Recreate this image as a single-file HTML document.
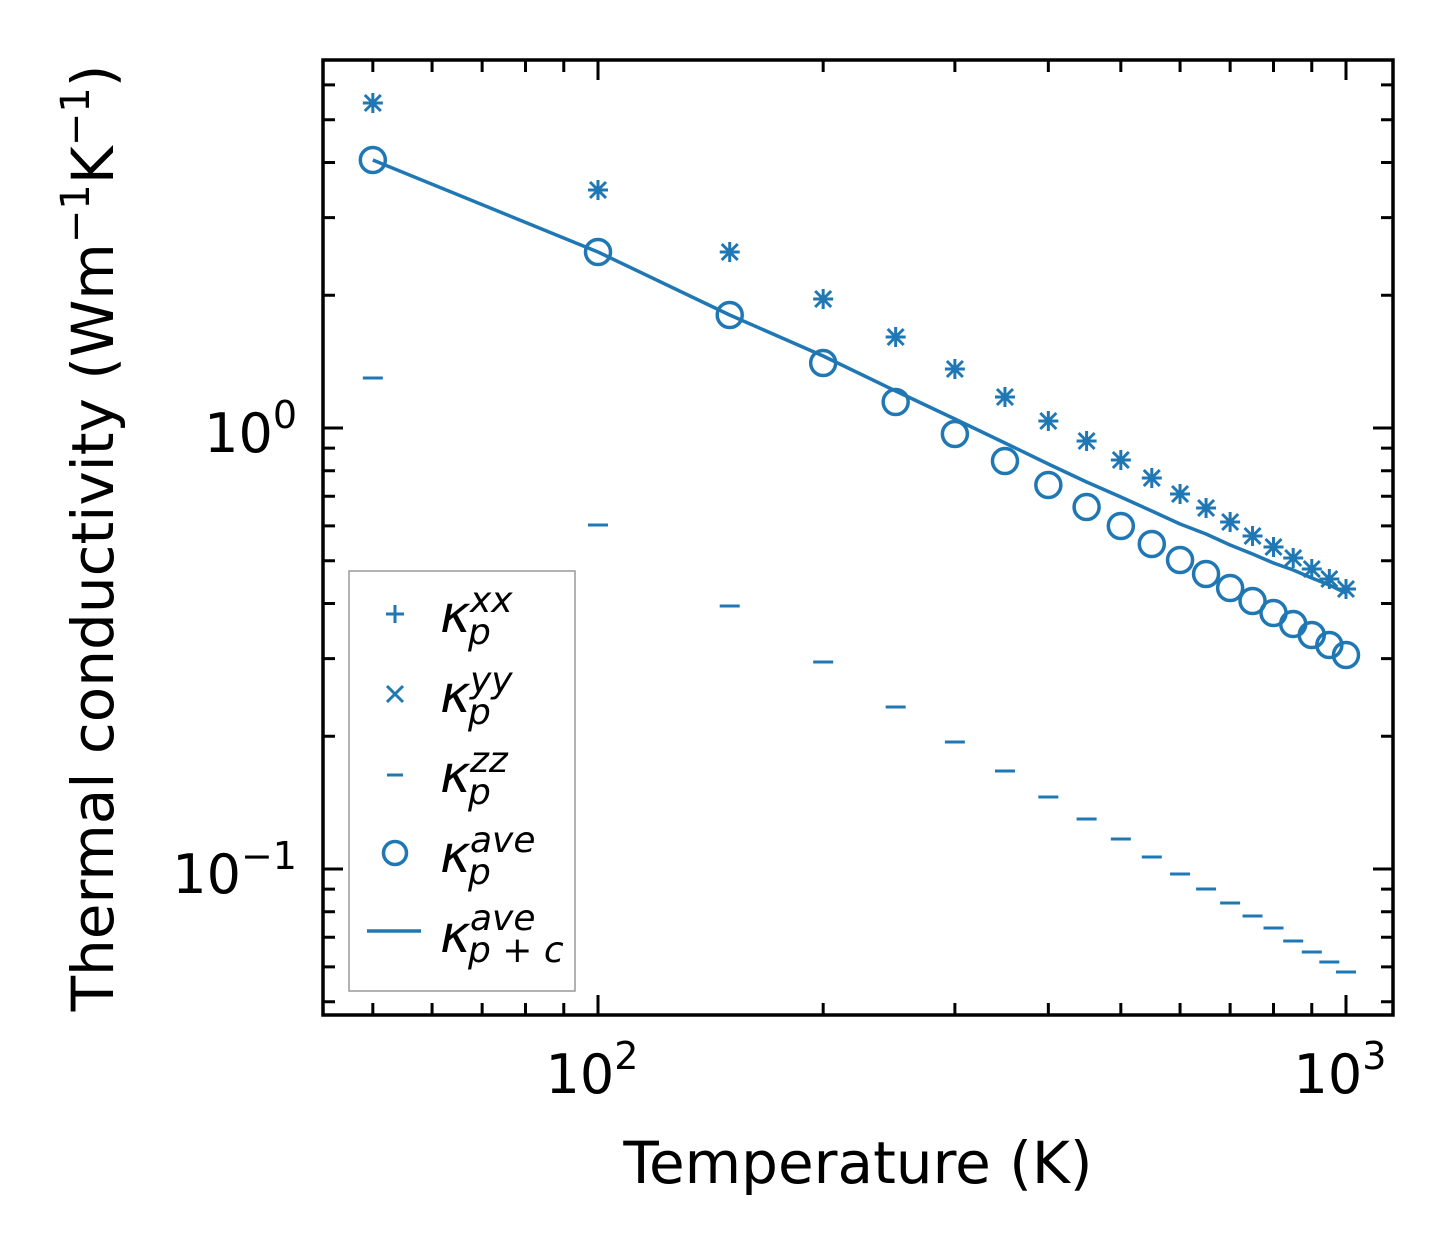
<!DOCTYPE html>
<html><head><meta charset="utf-8"><style>
html,body{margin:0;padding:0;background:#fff;}
svg{display:block;font-family:"DejaVu Sans","Liberation Sans",sans-serif;}
</style></head><body>
<svg id="s" width="1454" height="1254" viewBox="0 0 1454 1254" xmlns="http://www.w3.org/2000/svg">
<g id="ticks" stroke="#000" stroke-width="3"></g>
<g id="data" fill="none" stroke="#1f77b4" stroke-width="3.5"></g>
<rect x="323" y="60" width="1070" height="955" fill="none" stroke="#000" stroke-width="3.5"/>
<g font-size="54" fill="#000">
<text x="592" y="1093" text-anchor="middle">10<tspan dy="-24" font-size="38">2</tspan></text>
<text x="1340" y="1093" text-anchor="middle">10<tspan dy="-24" font-size="38">3</tspan></text>
<text x="297" y="452" text-anchor="end">10<tspan dy="-24" font-size="38">0</tspan></text>
<text x="297" y="893" text-anchor="end">10<tspan dy="-24" font-size="38">−1</tspan></text>
</g>
<text x="858" y="1183" text-anchor="middle" font-size="58">Temperature (K)</text>
<text transform="translate(113,538) rotate(-90)" text-anchor="middle" font-size="58">Thermal conductivity (Wm<tspan dy="-24" font-size="40">−1</tspan><tspan dy="24">K</tspan><tspan dy="-24" font-size="40">−1</tspan><tspan dy="24">)</tspan></text>
<rect x="349" y="571" width="226" height="420" fill="#fff" stroke="#999" stroke-width="1.5"/>
<g stroke="#1f77b4" stroke-width="3" fill="none">
<path d="M386 614h18M395 605v18"/>
<path d="M387 686l16 16M403 686l-16 16"/>
<path d="M387 775h16"/>
<circle cx="395" cy="853" r="11.5" stroke-width="3.5"/>
<path d="M367 931h54" stroke-width="3.5"/>
</g>
<g font-size="52" font-style="italic" fill="#000">
<text x="440" y="632">κ</text><text x="468" y="644" font-size="36">p</text><text x="470" y="612" font-size="36">xx</text>
<text x="440" y="712">κ</text><text x="468" y="724" font-size="36">p</text><text x="470" y="692" font-size="36">yy</text>
<text x="440" y="792">κ</text><text x="468" y="804" font-size="36">p</text><text x="470" y="772" font-size="36">zz</text>
<text x="440" y="872">κ</text><text x="468" y="884" font-size="36">p</text><text x="470" y="852" font-size="36">ave</text>
<text x="440" y="952">κ</text><text x="468" y="962" font-size="36">p + c</text><text x="470" y="930" font-size="36">ave</text>
</g>
</svg>
<script>
var NS="http://www.w3.org/2000/svg";
function X(T){return 598+748*Math.log10(T/100);}
function Y(v){return 428-441*Math.log10(v);}
var tk=document.getElementById("ticks"),d="";
for(var e=1;e<=3;e++)for(var k=1;k<10;k++){var T=k*Math.pow(10,e),x=X(T);if(x<325||x>1391)continue;var L=k==1?20:12;
d+="M"+x+" 1015v-"+L+"M"+x+" 60v"+L;}
for(var e=-2;e<=0;e++)for(var k=1;k<10;k++){var v=k*Math.pow(10,e),y=Y(v);if(y<62||y>1013)continue;var L=k==1?20:12;
d+="M323 "+y+"h"+L+"M1393 "+y+"h-"+L;}
var p=document.createElementNS(NS,"path");p.setAttribute("d",d);tk.appendChild(p);
var dg=document.getElementById("data");
var Ts=[];for(var i=1;i<=20;i++)Ts.push(i*50);
var circ=[160,252,315,363,402,434,461,485,507,526,544,560,574,588,601,613,624,635,645,655];
var star=[103,190,252,299,337,369,397,421,441,460,478,494,508,522,536,547,558,569,579,589];
var zz=[378,525,606,662,707,742,771,797,819,839,857,874,889,903,916,928,941,952,962,972];
var off=[0,0,0,7,11,15,18,21,25,29,33,36,40,43,47,50,54,57,60,62];
var s="",ln="";
for(var i=0;i<20;i++){var x=X(Ts[i]),y=star[i];
s+="M"+(x-10)+" "+y+"h20M"+x+" "+(y-10)+"v20M"+(x-8)+" "+(y-8)+"l16 16M"+(x+8)+" "+(y-8)+"l-16 16";
s+="M"+(x-10)+" "+zz[i]+"h20";
ln+=(i?"L":"M")+x+" "+(circ[i]-off[i]);
var c=document.createElementNS(NS,"circle");c.setAttribute("cx",x);c.setAttribute("cy",circ[i]);c.setAttribute("r",12.5);dg.appendChild(c);}
var p2=document.createElementNS(NS,"path");p2.setAttribute("d",s);p2.setAttribute("stroke-width","3");dg.appendChild(p2);
var p3=document.createElementNS(NS,"path");p3.setAttribute("d",ln);p3.setAttribute("stroke-linejoin","round");dg.appendChild(p3);
</script>
</body></html>
